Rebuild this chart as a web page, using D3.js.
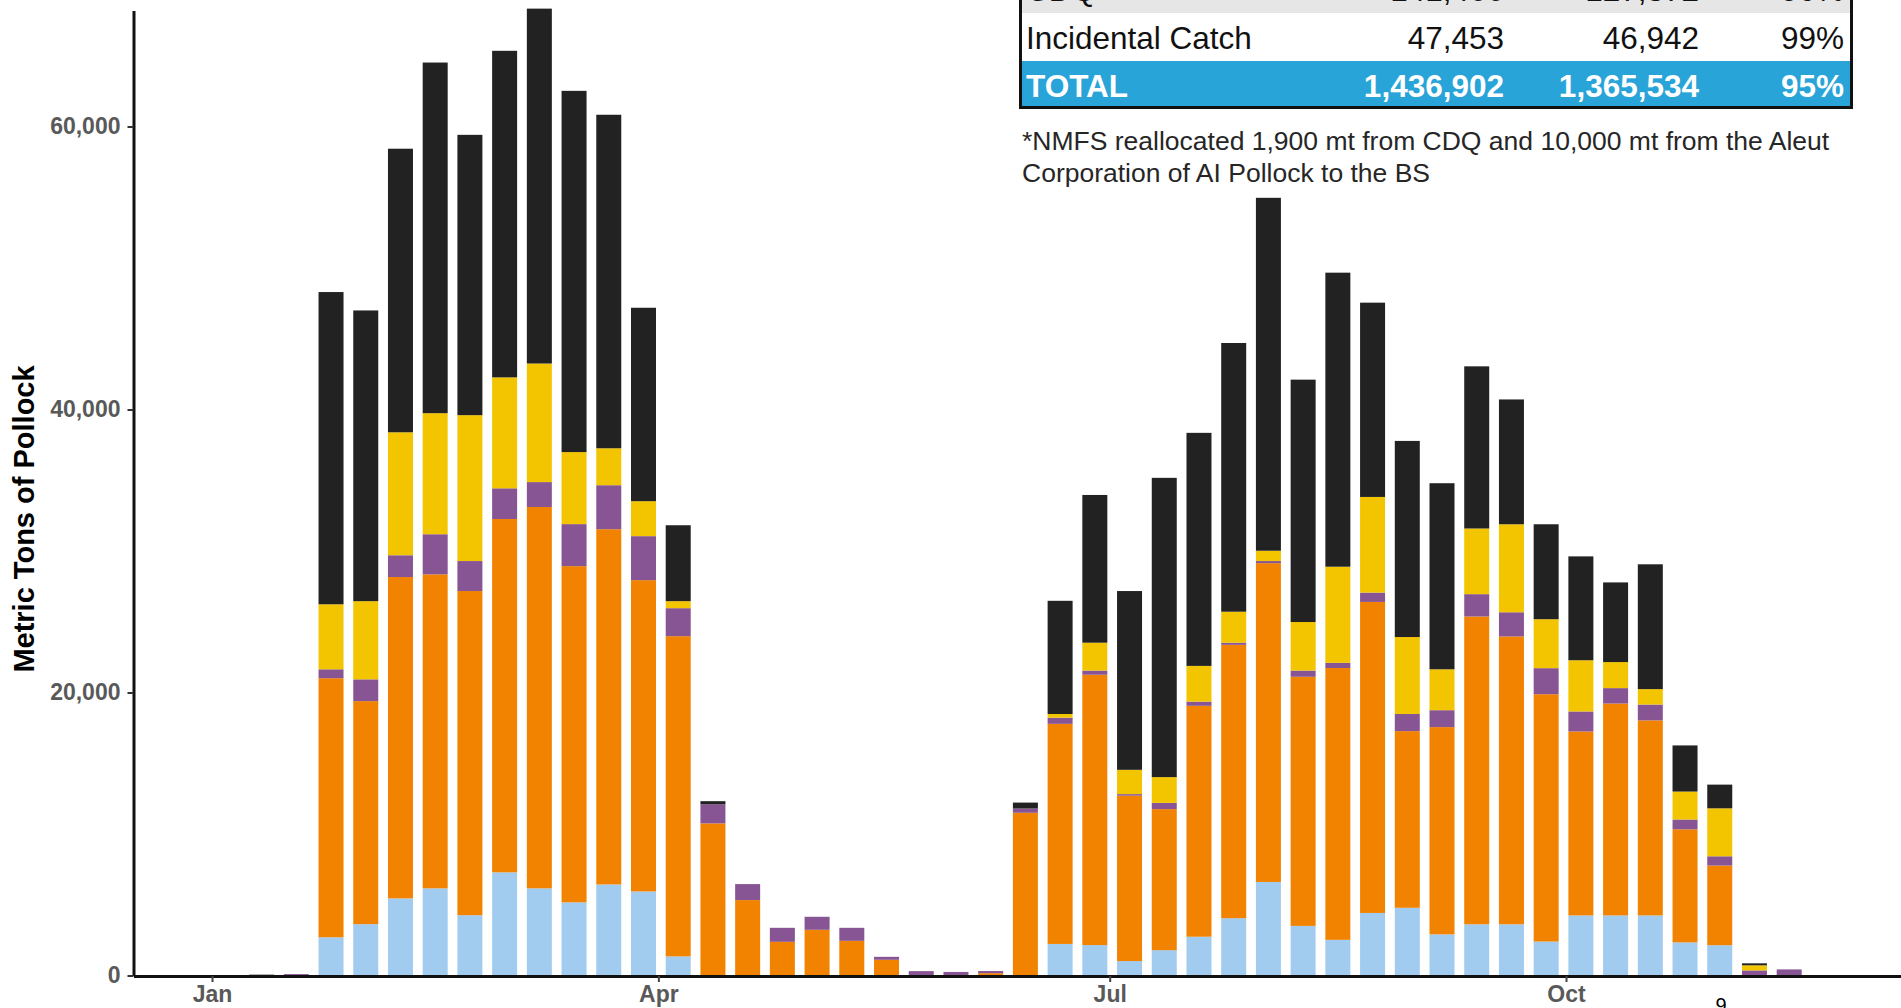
<!DOCTYPE html>
<html>
<head>
<meta charset="utf-8">
<script src="https://cdn.jsdelivr.net/npm/d3@7"></script>
<style>
  html, body { margin: 0; padding: 0; background: #ffffff; }
  svg { display: block; }
</style>
</head>
<body>
<svg id="chart" width="1901" height="1008"></svg>
<script>
// ---------------- DATA ----------------
const weeks = [
  "2019-01-11","2019-01-18","2019-01-25","2019-02-01","2019-02-08","2019-02-15","2019-02-22",
  "2019-03-01","2019-03-08","2019-03-15","2019-03-22","2019-03-29","2019-04-05","2019-04-12",
  "2019-04-19","2019-04-26","2019-05-03","2019-05-10","2019-05-17","2019-05-24","2019-05-31",
  "2019-06-07","2019-06-14","2019-06-21","2019-06-28","2019-07-05","2019-07-12","2019-07-19",
  "2019-07-26","2019-08-02","2019-08-09","2019-08-16","2019-08-23","2019-08-30","2019-09-06",
  "2019-09-13","2019-09-20","2019-09-27","2019-10-04","2019-10-11","2019-10-18","2019-10-25",
  "2019-11-01","2019-11-08","2019-11-15"
];
// stacked bottom -> top
const seriesLightBlue = [0,0,2700,3630,5450,6160,4260,7290,6160,5170,6435,5940,1350,0,0,0,0,0,0,0,0,0,0,2230,2150,1020,1790,2740,4050,6610,3505,2520,4420,4785,2910,3620,3620,2400,4245,4245,4245,2340,2140,0,0];
const seriesOrange    = [0,0,18310,15760,22710,22190,22910,24970,26950,23760,25105,22000,22630,10750,5330,2380,3230,2450,1110,30,0,165,11500,15555,19105,11690,9970,16320,19320,22530,17605,19210,21980,12485,14645,21750,20340,17480,13000,14975,13785,7990,5630,0,0];
const seriesPurple    = [0,100,630,1540,1540,2835,2120,2170,1760,2970,3110,3110,1980,1350,1130,990,920,920,210,280,250,150,300,435,295,110,440,295,150,150,440,365,660,1210,1195,1580,1710,1840,1415,1090,1120,695,655,360,430];
const seriesYellow    = [0,0,4595,5525,8690,8555,10310,7840,8380,5090,2610,2470,495,0,0,0,0,0,0,0,0,0,0,260,1970,1715,1820,2525,2190,730,3430,6795,6760,5440,2890,4640,6220,3460,3620,1840,1090,1975,3390,360,0];
const seriesBlack     = [60,0,22065,20545,20040,24780,19810,23080,25080,25530,23570,13670,5365,220,0,0,0,0,0,0,0,0,420,8000,10440,12635,21150,16470,18990,24940,17130,20780,13730,13860,13150,11460,8820,6710,7340,5630,8820,3260,1675,140,0];

const seriesKeys   = ["lightBlue","orange","purple","yellow","black"];
const seriesColors = ["#a1cbef","#f28300","#885594","#f3c400","#222222"];

const yTickValues = [0, 20000, 40000, 60000];
const xTickDates  = ["2019-01-01","2019-04-01","2019-07-01","2019-10-01"];
const yAxisTitle  = "Metric Tons of Pollock";

const tableRowLabels = ["CDQ","Incidental Catch","TOTAL"];
const tableAllocations = ["141,466","47,453","1,436,902"];
const tableCatches = ["127,372","46,942","1,365,534"];
const tablePercents = ["90%","99%","95%"];
const footnoteLines = [
  "*NMFS reallocated 1,900 mt from CDQ and 10,000 mt from the Aleut",
  "Corporation of AI Pollock to the BS"
];
const pageNumber = "9";

// ---------------- BUILD ----------------
const parse = d3.utcParse("%Y-%m-%d");
const rows = weeks.map((w, i) => ({
  date: parse(w),
  lightBlue: seriesLightBlue[i],
  orange: seriesOrange[i],
  purple: seriesPurple[i],
  yellow: seriesYellow[i],
  black: seriesBlack[i]
}));

const svg = d3.select("#chart");
const FONT = "'Liberation Sans', Arial, Helvetica, sans-serif";

// x scale: calibrated so Jan 1 -> 212px, Oct 1 -> 1566px, then extended to full axis span
const xCal = d3.scaleUtc().domain([parse("2019-01-01"), parse("2019-10-01")]).range([212, 1566]);
const axisLeftX = 133.5, axisRightX = 1901;
const x = d3.scaleUtc().domain([xCal.invert(axisLeftX), xCal.invert(axisRightX)]).range([axisLeftX, axisRightX]);

const y0px = 975.5, pxPer = 283 / 20000;
const yMax = 68200;
const y = d3.scaleLinear().domain([0, yMax]).range([y0px, y0px - yMax * pxPer]);

const stack = d3.stack().keys(seriesKeys);
const stacked = stack(rows);
const color = d3.scaleOrdinal().domain(seriesKeys).range(seriesColors);

const weekPx = x(d3.utcDay.offset(parse("2019-01-11"), 7)) - x(parse("2019-01-11"));
const barW = weekPx * 0.72;

const gBars = svg.append("g");
gBars.selectAll("g.layer")
  .data(stacked)
  .join("g")
  .attr("class", "layer")
  .attr("fill", d => color(d.key))
  .selectAll("rect")
  .data(d => d)
  .join("rect")
  .attr("x", d => x(d.data.date) - barW / 2)
  .attr("width", barW)
  .attr("y", d => y(d[1]))
  .attr("height", d => Math.max(0, y(d[0]) - y(d[1])));

// y axis
const yAxis = d3.axisLeft(y).tickValues(yTickValues).tickFormat(d3.format(","))
  .tickSize(6).tickSizeOuter(0).tickPadding(7);
const gy = svg.append("g").attr("transform", `translate(${axisLeftX},0)`).call(yAxis);
gy.select(".domain").attr("stroke", "#111").attr("stroke-width", 3);
gy.selectAll(".tick line").attr("stroke", "#333").attr("stroke-width", 2);
gy.selectAll(".tick text").attr("font-family", FONT).attr("font-size", 23)
  .attr("font-weight", "bold").attr("fill", "#595959");

// x axis
const xAxis = d3.axisBottom(x).tickValues(xTickDates.map(parse)).tickFormat(d3.utcFormat("%b"))
  .tickSize(6).tickSizeOuter(0).tickPadding(4);
const gx = svg.append("g").attr("transform", `translate(0,${y0px + 0.5})`).call(xAxis);
gx.select(".domain").attr("stroke", "#111").attr("stroke-width", 3);
gx.selectAll(".tick line").attr("stroke", "#444").attr("stroke-width", 2);
gx.selectAll(".tick text").attr("font-family", FONT).attr("font-size", 23)
  .attr("font-weight", "bold").attr("fill", "#595959");

// y title
svg.append("text")
  .attr("transform", "translate(33.5,519) rotate(-90)")
  .attr("text-anchor", "middle")
  .attr("font-family", FONT).attr("font-size", 29).attr("font-weight", "bold")
  .attr("fill", "#000")
  .text(yAxisTitle);

// ---------------- TABLE ----------------
const tLeft = 1020.5, tRight = 1851.5, rowH = 48;
const rowTops = [-35, 13, 61];
const rowFills = ["#e6e6e6", "#ffffff", "#28a4d8"];
const colRight = [null, 1504, 1699, 1844];
const gT = svg.append("g");
tableRowLabels.forEach((lab, i) => {
  const top = rowTops[i];
  const h = i === 2 ? 46 : rowH;
  gT.append("rect").attr("x", tLeft).attr("y", top).attr("width", tRight - tLeft).attr("height", h)
    .attr("fill", rowFills[i]);
  const total = i === 2;
  const txtFill = total ? "#ffffff" : "#111111";
  const weight = total ? "bold" : "normal";
  const base = top + 35.5;
  gT.append("text").attr("x", 1026).attr("y", base).attr("font-family", FONT).attr("font-size", 31.5)
    .attr("font-weight", weight).attr("fill", txtFill).text(lab);
  [tableAllocations[i], tableCatches[i], tablePercents[i]].forEach((v, j) => {
    gT.append("text").attr("x", colRight[j + 1]).attr("y", base).attr("text-anchor", "end")
      .attr("font-family", FONT).attr("font-size", 31.5).attr("font-weight", weight)
      .attr("fill", txtFill).text(v);
  });
});
// table border
gT.append("path")
  .attr("d", `M${tLeft},0 V107.5 H${tRight} V0`)
  .attr("fill", "none").attr("stroke", "#111").attr("stroke-width", 3);

// footnote
footnoteLines.forEach((line, i) => {
  svg.append("text").attr("x", 1022).attr("y", 150 + i * 31.5)
    .attr("font-family", FONT).attr("font-size", 26.5).attr("fill", "#262626")
    .text(line);
});

// page number
svg.append("text").attr("x", 1721).attr("y", 1012).attr("text-anchor", "middle")
  .attr("font-family", FONT).attr("font-size", 20).attr("fill", "#000").text(pageNumber);
</script>
</body>
</html>
